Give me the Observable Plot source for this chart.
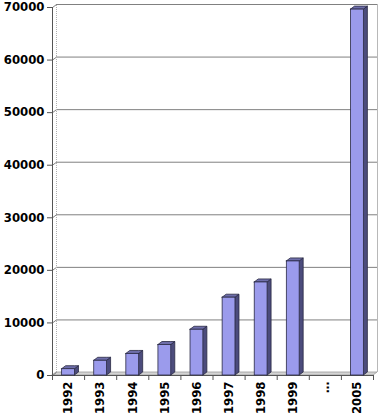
<!DOCTYPE html>
<html>
<head>
<meta charset="utf-8">
<script src="https://cdn.jsdelivr.net/npm/d3@7"></script>
<script src="https://cdn.jsdelivr.net/npm/@observablehq/plot@0.6"></script>
<style>
  html, body { margin: 0; padding: 0; background: #fff; }
  #chart svg { display: block; }
</style>
</head>
<body>
<div id="chart"></div>
<script>
// Data
const years = ["1992", "1993", "1994", "1995", "1996", "1997", "1998", "1999", "\u2026", "2005"];
const values = [1200, 2800, 4100, 5800, 8700, 14800, 17700, 21700, 0, 69600];
const yTicks = [0, 10000, 20000, 30000, 40000, 50000, 60000, 70000];

// Style constants (3D depth in data units)
const DX = 0.125;   // depth along x (category units)
const DY = 570;     // depth along y (value units)
const B0 = 0.3, B1 = 0.7; // bar front face within category

const data = years.map((year, i) => ({i, year, value: values[i]}));
const bars = data.filter(d => d.value > 0);

const sidePts = bars.flatMap(d => [
  {z: d.i, x: d.i + B1, y1: 0, y2: d.value},
  {z: d.i, x: d.i + B1 + DX, y1: DY, y2: d.value + DY}
]);
const topPts = bars.flatMap(d => [
  {z: d.i, x: d.i + B0, y1: d.value, y2: d.value},
  {z: d.i, x: d.i + B0 + DX, y1: d.value, y2: d.value + DY},
  {z: d.i, x: d.i + B1, y1: d.value, y2: d.value + DY},
  {z: d.i, x: d.i + B1 + DX, y1: d.value + DY, y2: d.value + DY}
]);
const n = years.length;
const floorPts = [
  {x: 0, y1: 0, y2: 0},
  {x: DX, y1: 0, y2: DY},
  {x: n, y1: 0, y2: DY},
  {x: n + DX, y1: DY, y2: DY}
];
const boundaries = d3.range(0, n + 1);
const centers = d3.range(0, n).map(i => i + 0.5);

const font = "DejaVu Sans, Arial, sans-serif";

const chart = Plot.plot({
  width: 381,
  height: 418,
  marginLeft: 52,
  marginRight: 8,
  marginTop: 7,
  marginBottom: 43,
  style: {fontFamily: font, fontSize: "11.7px", fontWeight: "bold", color: "#000", background: "#fff", overflow: "visible"},
  x: {type: "linear", domain: [0, n], axis: null, label: null},
  y: {domain: [0, 70000], axis: null, label: null},
  marks: [
    // floor
    Plot.areaY(floorPts, {x: "x", y1: "y1", y2: "y2", fill: "#d4d4d4", stroke: "#9a9a9a", strokeWidth: 0.8}),
    // back wall gridlines
    Plot.ruleY(yTicks.filter(v => v > 0), {y: v => v + DY, x1: DX, x2: n + DX, stroke: "#808080", strokeWidth: 1}),
    // connectors from ticks to wall
    Plot.link(yTicks, {x1: 0, y1: v => v, x2: DX, y2: v => v + DY, stroke: "#808080", strokeWidth: 1}),
    // left wall edge
    Plot.ruleX([DX], {y1: DY, y2: 70000 + DY, stroke: "#b0b0b0", strokeDasharray: "1,1"}),
    // right wall edge
    Plot.ruleX([n + DX], {y1: DY, y2: 70000 + DY, stroke: "#b8b8b8"}),
    // y axis line
    Plot.ruleX([0], {y1: 0, y2: 70000, stroke: "#555"}),
    // x axis front line
    Plot.ruleY([0], {x1: 0, x2: n, stroke: "#555"}),
    // bars: side faces
    Plot.areaY(sidePts, {x: "x", y1: "y1", y2: "y2", z: "z", fill: "#4c4c7c", stroke: "#2a2a44", strokeWidth: 0.8}),
    // bars: top faces
    Plot.areaY(topPts, {x: "x", y1: "y1", y2: "y2", z: "z", fill: "#6e6eaa", stroke: "#2a2a44", strokeWidth: 0.8}),
    // bars: front faces
    Plot.rectY(bars, {x1: d => d.i + B0, x2: d => d.i + B1, y: "value", fill: "#9b9bec", stroke: "#2a2a44", strokeWidth: 0.8}),
    // axes
    Plot.axisY({ticks: yTicks, tickFormat: d3.format("d"), tickSize: 5, tickPadding: 3, stroke: "#555", fontWeight: "bold", fontSize: 11.7, label: null}),
    Plot.axisX({ticks: boundaries, tickFormat: () => "", tickSize: 5, stroke: "#555", label: null}),
    Plot.axisX({ticks: centers, tickFormat: d => years[Math.floor(d)], tickSize: 0, tickPadding: 6, tickRotate: -90, fontWeight: "bold", fontSize: 11.7, label: null})
  ]
});

document.getElementById("chart").appendChild(chart);
</script>
</body>
</html>
